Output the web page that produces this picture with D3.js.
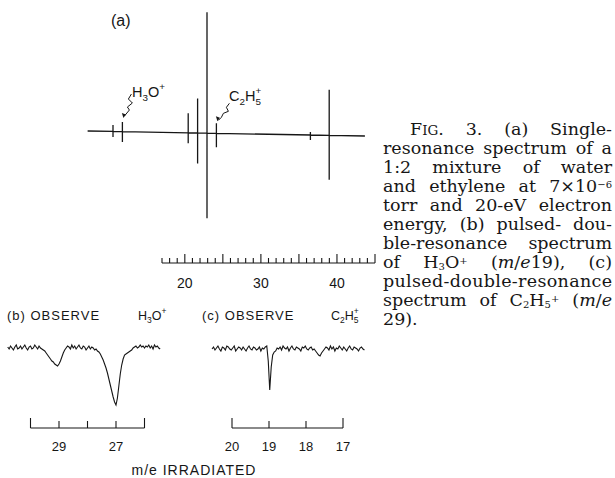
<!DOCTYPE html>
<html>
<head>
<meta charset="utf-8">
<script src="https://cdn.jsdelivr.net/npm/d3@7"></script>
<style>
  body { margin: 0; background: #fff; }
  .lbl { font-family: "Liberation Sans", Arial, sans-serif; fill: #161616; }
  .cap { font-family: "DejaVu Serif", serif; fill: #161616; }
</style>
</head>
<body>
<div id="fig"></div>
<script>
// (a) single-resonance spectrum: peak m/e, height above and depth below the baseline
const peaksA = [18, 19, 26, 27, 28, 29, 39, 41];
const upA = [6.5, 9.6, 19.5, 34.6, 121, 10, 3, 45.6];
const downA = [5.5, 10.4, 10.5, 30.4, 85, 14, 5, 44.4];
// baseline drift at the two ends of the sweep
const baseA = [[15.3, 0], [44.8, -5]];
const rulerA = [17, 45];
const rulerALabels = [20, 30, 40];

// (b) observe H3O+, signal read every 0.05 m/e from 30.8 downwards
const startB = 30.8, stepB = 0.05;
const traceB = [
  1, -1, 2, 0, -2, 1, 3, -1, 0, 2, -1, 1, 3, 0, -2, 1, 2, -1, 0, 3, 1, -1, 2, 0, -1, -2,
  -3, -5, -7, -9, -11, -13, -14, -16, -17, -18, -16, -13, -9, -5, -2, 0,
  2, 1, -1, 3, 0, 2, -1, 1, 3, 0, -1, 2, 1, -2, 0, 2, -1, 1, 0, -2, -1, -3,
  -4, -6, -9, -12, -16, -20, -25, -31, -37, -43, -49, -54, -57, -50, -38, -26, -17, -11, -7,
  -6, -5, -4, -3, -2, 0, 1, 2, 0, 1, 3, 1, 2, 0, 2, 1, 3, 0, 2, -1, 3, 1, 2, 0, -1
];
const rulerB = [30, 26];
const rulerBLabels = [29, 27];

// (c) observe C2H5+, signal read every 0.04 m/e from 20.54 downwards
const startC = 20.54, stepC = 0.04;
const traceC = [
  0, 2, -1, 1, 3, 0, -2, 2, 1, -1, 3, 2, 0, -1, 1, 3, -2, 0, 2, 1, -1, 2, 0, -2, 1, 3, 0, -1, 2, 1, -1, 0, 2, -2, 1, 0,
  2, 3, -12, -41, -18, -6, -3,
  -2, 1, 0, 2, -1, 3, 1, 0, 2, -2, 1, 3, 0, -1, 2, 1, 0, -2, 2, 1, 3, 0, -1, 1, 2, -1, 0,
  -2, -4, -6, -7, -4, -2, 0,
  2, 1, -1, 3, 0, 2, -2, 1, 0, 3, 1, -1, 2, 0, -2, 1, 3, 0, -1, 2, 1, 0, -2, 1, 2, 0, -1
];
const rulerC = [20, 17];
const rulerCLabels = [20, 19, 18, 17];

// caption, one entry per printed line: [text, style]
const captionLines = [
  [['F'], ['IG', 'sc'], ['. 3. (a) Single-']],
  [['resonance spectrum of a']],
  [['1:2 mixture of water']],
  [['and ethylene at 7×10'], ['−6', 'sup']],
  [['torr and 20-eV electron']],
  [['energy, (b) pulsed- dou-']],
  [['ble-resonance spectrum']],
  [['of H'], ['3', 'sub'], ['O'], ['+', 'sup'], [' ('], ['m', 'i'], ['/'], ['e', 'i'], ['19), (c)']],
  [['pulsed-double-resonance']],
  [['spectrum of C'], ['2', 'sub'], ['H'], ['5', 'sub'], ['+', 'sup'], [' ('], ['m', 'i'], ['/'], ['e', 'i']],
  [['29).']]
];

const ink = '#161616';
const svg = d3.select('#fig').append('svg')
  .attr('width', 615).attr('height', 478);

// ---------- panel (a) ----------
const xA = d3.scaleLinear().domain([18, 29]).range([113, 216.4]);
const yA = d3.scaleLinear().domain([-100, 130]).range([231, 1]);
const driftA = d3.scaleLinear().domain(baseA.map(d => d[0])).range(baseA.map(d => d[1]));

let ptsA = [[baseA[0][0], driftA(baseA[0][0])]];
peaksA.forEach((m, i) => {
  const b = driftA(m);
  ptsA.push([m, b], [m, b + upA[i]], [m, b - downA[i]], [m, b]);
});
ptsA.push([baseA[1][0], driftA(baseA[1][0])]);

svg.append('path')
  .datum(ptsA)
  .attr('fill', 'none')
  .attr('stroke', ink)
  .attr('stroke-width', 1.3)
  .attr('d', d3.line().x(d => xA(d[0])).y(d => yA(d[1])));

svg.append('text').attr('class', 'lbl')
  .attr('x', 111).attr('y', 26).attr('font-size', 16).text('(a)');

// chemical formula labels with sub/superscripts
function formula(x, y, parts, size) {
  const t = svg.append('text').attr('class', 'lbl').attr('x', x).attr('y', y).attr('font-size', size);
  let shift = 0;
  parts.forEach(p => {
    const target = p.sub ? size * 0.25 : p.sup ? -size * 0.45 : 0;
    const s = t.append('tspan').text(p.t).attr('dy', target - shift);
    if (p.sub || p.sup) s.attr('font-size', size * 0.68);
    if (p.back) s.attr('dx', -size * 0.38);
    shift = target;
  });
}

// wavy arrows pointing at the labelled peaks
function squiggle(tx, ty, pts) {
  svg.append('path')
    .attr('d', d3.line()(pts.map(p => [tx + p[0], ty + p[1]])))
    .attr('fill', 'none').attr('stroke', ink).attr('stroke-width', 1);
  svg.append('path')
    .attr('d', `M${tx},${ty} l-1.5,-5 l4,1.5 z`)
    .attr('fill', ink);
}

const iH = peaksA.indexOf(19), iC = peaksA.indexOf(29);
const topH = yA(driftA(19) + upA[iH]), topC = yA(driftA(29) + upA[iC]);
squiggle(xA(19) + 1, topH - 4, [[8, -24], [5, -19], [9, -15], [4, -11], [6, -8], [1, -2]]);
formula(132, 97, [{ t: 'H' }, { t: '3', sub: true }, { t: 'O' }, { t: '+', sup: true }], 14.5);
squiggle(xA(29) + 1, topC - 2, [[12, -18], [9, -14], [11, -10], [6, -8], [4, -4], [1, -1]]);
formula(229, 101, [{ t: 'C' }, { t: '2', sub: true }, { t: 'H' }, { t: '5', sub: true }, { t: '+', sup: true, back: true }], 14.5);

// ruler under (a)
const rA = d3.scaleLinear().domain([17, 45]).range([162, 375]);
const rAy = 263;
svg.append('line')
  .attr('x1', rA(rulerA[0])).attr('x2', rA(rulerA[1]))
  .attr('y1', rAy).attr('y2', rAy)
  .attr('stroke', ink).attr('stroke-width', 1.2);
svg.append('g').selectAll('line')
  .data(d3.range(rulerA[0], rulerA[1] + 1))
  .join('line')
  .attr('x1', d => rA(d)).attr('x2', d => rA(d))
  .attr('y1', rAy).attr('y2', d => rAy - (d % 5 === 0 ? 9 : 5))
  .attr('stroke', ink).attr('stroke-width', 1.1);
svg.append('g').selectAll('text')
  .data(rulerALabels)
  .join('text')
  .attr('class', 'lbl')
  .attr('x', d => rA(d)).attr('y', 288)
  .attr('text-anchor', 'middle').attr('font-size', 14)
  .text(d => d);

// ---------- panels (b) and (c) ----------
function trace(x, y, start, step, vals) {
  svg.append('path')
    .datum(vals.map((v, i) => [start - step * i, v]))
    .attr('fill', 'none')
    .attr('stroke', ink)
    .attr('stroke-width', 1.1)
    .attr('d', d3.line().x(d => x(d[0])).y(d => y(d[1])));
}

function ruler(x, dom, labels, y0) {
  svg.append('line')
    .attr('x1', x(dom[0])).attr('x2', x(dom[1]))
    .attr('y1', y0).attr('y2', y0)
    .attr('stroke', ink).attr('stroke-width', 1.2);
  const ticks = d3.range(dom[0], dom[1] - 1, -1);
  svg.append('g').selectAll('line')
    .data(ticks)
    .join('line')
    .attr('x1', d => x(d)).attr('x2', d => x(d))
    .attr('y1', y0).attr('y2', d => y0 - (d === dom[0] || d === dom[1] ? 10 : 7))
    .attr('stroke', ink).attr('stroke-width', 1.1);
  svg.append('g').selectAll('text')
    .data(labels)
    .join('text')
    .attr('class', 'lbl')
    .attr('x', d => x(d)).attr('y', y0 + 23)
    .attr('text-anchor', 'middle').attr('font-size', 13)
    .text(d => d);
}

function title(x, y, tag, fx, parts) {
  svg.append('text').attr('class', 'lbl')
    .attr('x', x).attr('y', y).attr('font-size', 13).attr('letter-spacing', 1)
    .text(tag + ' OBSERVE');
  formula(fx, y, parts, 12.5);
}

const xB = d3.scaleLinear().domain([29, 27]).range([59, 116]);
const yB = d3.scaleLinear().domain([-60, 10]).range([408, 338]);
title(7, 320, '(b)', 138, [{ t: 'H' }, { t: '3', sub: true }, { t: 'O' }, { t: '+', sup: true }]);
trace(xB, yB, startB, stepB, traceB);
ruler(xB, rulerB, rulerBLabels, 428);

const xC = d3.scaleLinear().domain([20, 17]).range([232, 343]);
const yC = d3.scaleLinear().domain([-60, 10]).range([409, 339]);
title(202, 320, '(c)', 331, [{ t: 'C' }, { t: '2', sub: true }, { t: 'H' }, { t: '5', sub: true }, { t: '+', sup: true, back: true }]);
trace(xC, yC, startC, stepC, traceC);
ruler(xC, rulerC, rulerCLabels, 428);

svg.append('text').attr('class', 'lbl')
  .attr('x', 194).attr('y', 475).attr('text-anchor', 'middle')
  .attr('font-size', 14).attr('letter-spacing', 1)
  .text('m/e  IRRADIATED');

// ---------- caption, justified line by line ----------
const capLeft = 383, capRight = 612, capTop = 135, capLead = 19, capSize = 17.5;
captionLines.forEach((line, i) => {
  const x0 = i === 0 ? 410 : capLeft;
  const t = svg.append('text').attr('class', 'cap')
    .attr('x', x0).attr('y', capTop + i * capLead).attr('font-size', capSize);
  let shift = 0;
  line.forEach(([txt, st]) => {
    const target = st === 'sub' ? 1.5 : st === 'sup' ? -4.5 : 0;
    const s = t.append('tspan').text(txt).attr('dy', target - shift);
    if (st === 'sub' || st === 'sup') s.attr('font-size', 10);
    if (st === 'sc') s.attr('font-size', 13.5);
    if (st === 'i') s.attr('font-style', 'italic');
    shift = target;
  });
  if (i === captionLines.length - 1) return;
  const full = line.map(d => d[0]).join('');
  const gap = (capRight - x0) - t.node().getComputedTextLength();
  const spaces = (full.match(/ /g) || []).length;
  if (spaces > 0) t.attr('word-spacing', gap / spaces);
  else t.attr('letter-spacing', gap / (full.length - 1));
});
</script>
</body>
</html>
